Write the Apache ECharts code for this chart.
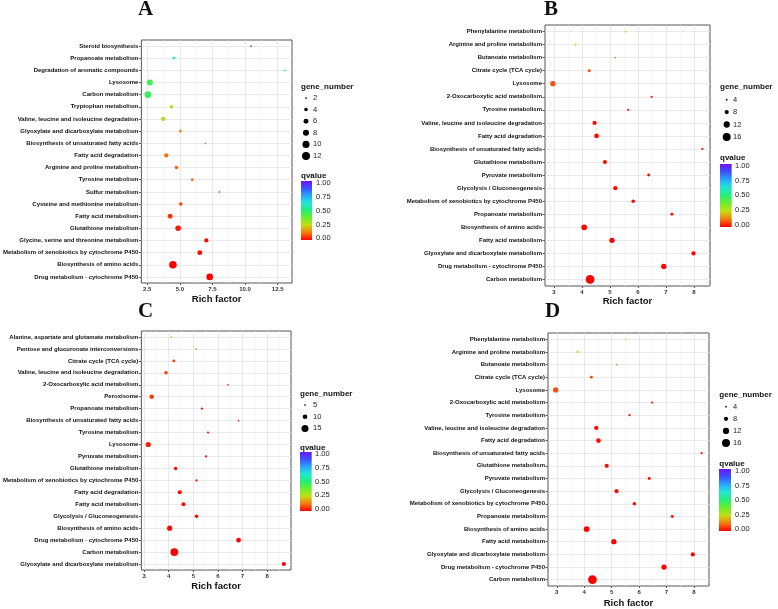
<!DOCTYPE html>
<html><head><meta charset="utf-8">
<script src="https://cdn.jsdelivr.net/npm/echarts@6/dist/echarts.min.js"></script>
<style>html,body{margin:0;padding:0;background:#fff}#c{width:778px;height:609px}</style>
</head><body><div id="c"></div><script>
// ---------- DATA ----------
const catA = ['Steroid biosynthesis','Propanoate metabolism','Degradation of aromatic compounds','Lysosome','Carbon metabolism','Tryptophan metabolism','Valine, leucine and isoleucine degradation','Glyoxylate and dicarboxylate metabolism','Biosynthesis of unsaturated fatty acids','Fatty acid degradation','Arginine and proline metabolism','Tyrosine metabolism','Sulfur metabolism','Cysteine and methionine metabolism','Fatty acid metabolism','Glutathione metabolism','Glycine, serine and threonine metabolism','Metabolism of xenobiotics by cytochrome P450','Biosynthesis of amino acids','Drug metabolism - cytochrome P450'];
const richA = [10.46, 4.54, 13.05, 2.70, 2.55, 4.36, 3.73, 5.04, 6.96, 3.96, 4.74, 5.95, 8.04, 5.07, 4.26, 4.87, 7.03, 6.53, 4.47, 7.29];
const geneA = [1, 3, 1, 8, 9, 4, 5, 3, 2, 5, 4, 3, 2, 4, 6, 7, 5, 6, 11, 9];
const qA = [0.95, 0.62, 0.5, 0.45, 0.46, 0.28, 0.30, 0.13, 0.12, 0.11, 0.10, 0.10, 0.08, 0.07, 0.05, 0.02, 0.01, 0.01, 0.0, 0.0];

const catB = ['Phenylalanine metabolism','Arginine and proline metabolism','Butanoate metabolism','Citrate cycle (TCA cycle)','Lysosome','2-Oxocarboxylic acid metabolism','Tyrosine metabolism','Valine, leucine and isoleucine degradation','Fatty acid degradation','Biosynthesis of unsaturated fatty acids','Glutathione metabolism','Pyruvate metabolism','Glycolysis / Gluconeogenesis','Metabolism of xenobiotics by cytochrome P450','Propanoate metabolism','Biosynthesis of amino acids','Fatty acid metabolism','Glyoxylate and dicarboxylate metabolism','Drug metabolism - cytochrome P450','Carbon metabolism'];
const richB = [5.55, 3.77, 5.19, 4.26, 2.96, 6.49, 5.65, 4.45, 4.52, 8.30, 4.82, 6.38, 5.19, 5.83, 7.21, 4.08, 5.07, 7.98, 6.92, 4.29];
const geneB = [4, 5, 4, 6, 10, 5, 5, 8, 9, 5, 8, 6, 8, 7, 6, 11, 10, 8, 10, 18];
const qB = [0.30, 0.28, 0.15, 0.08, 0.08, 0.03, 0.02, 0.01, 0.01, 0.02, 0.01, 0.01, 0.01, 0.01, 0.01, 0, 0, 0, 0, 0];

const catC = ['Alanine, aspartate and glutamate metabolism','Pentose and glucuronate interconversions','Citrate cycle (TCA cycle)','Valine, leucine and isoleucine degradation','2-Oxocarboxylic acid metabolism','Peroxisome','Propanoate metabolism','Biosynthesis of unsaturated fatty acids','Tyrosine metabolism','Lysosome','Pyruvate metabolism','Glutathione metabolism','Metabolism of xenobiotics by cytochrome P450','Fatty acid degradation','Fatty acid metabolism','Glycolysis / Gluconeogenesis','Biosynthesis of amino acids','Drug metabolism - cytochrome P450','Carbon metabolism','Glyoxylate and dicarboxylate metabolism'];
const richC = [4.11, 5.12, 4.21, 3.89, 6.41, 3.31, 5.35, 6.84, 5.60, 3.17, 5.52, 4.28, 5.13, 4.45, 4.60, 5.13, 4.04, 6.84, 4.23, 8.68];
const geneC = [5, 4, 7, 8, 5, 10, 6, 5, 6, 11, 6, 8, 6, 9, 9, 8, 11, 10, 17, 9];
const qC = [0.18, 0.15, 0.07, 0.06, 0.03, 0.06, 0.02, 0.04, 0.02, 0.03, 0.01, 0.01, 0.01, 0.01, 0.01, 0.01, 0, 0, 0, 0];

const catD = ['Phenylalanine metabolism','Arginine and proline metabolism','Butanoate metabolism','Citrate cycle (TCA cycle)','Lysosome','2-Oxocarboxylic acid metabolism','Tyrosine metabolism','Valine, leucine and isoleucine degradation','Fatty acid degradation','Biosynthesis of unsaturated fatty acids','Glutathione metabolism','Pyruvate metabolism','Glycolysis / Gluconeogenesis','Metabolism of xenobiotics by cytochrome P450','Propanoate metabolism','Biosynthesis of amino acids','Fatty acid metabolism','Glyoxylate and dicarboxylate metabolism','Drug metabolism - cytochrome P450','Carbon metabolism'];
const richD = [5.52, 3.76, 5.18, 4.26, 2.96, 6.48, 5.65, 4.44, 4.52, 8.28, 4.82, 6.37, 5.18, 5.83, 7.21, 4.09, 5.08, 7.96, 6.91, 4.30];
const geneD = [4, 5, 4, 6, 10, 5, 5, 8, 9, 5, 8, 6, 8, 7, 6, 11, 10, 8, 10, 18];
const qD = [0.30, 0.28, 0.15, 0.08, 0.08, 0.03, 0.02, 0.01, 0.01, 0.02, 0.01, 0.01, 0.01, 0.01, 0.01, 0, 0, 0, 0, 0];

const ticksA = [2.5, 5, 7.5, 10, 12.5];
const tickLabelsA = ['2.5', '5.0', '7.5', '10.0', '12.5'];
const minorA = [3.75, 6.25, 8.75, 11.25];
const ticksBCD = [3, 4, 5, 6, 7, 8];
const tickLabelsBCD = ['3', '4', '5', '6', '7', '8'];
const minorBCD = [3.5, 4.5, 5.5, 6.5, 7.5, 8.5];

const legendGenesA = [2, 4, 6, 8, 10, 12];
const legendGenesB = [4, 8, 12, 16];
const legendGenesC = [5, 10, 15];
const legendGenesD = [4, 8, 12, 16];
const qTicks = [0, 0.25, 0.5, 0.75, 1];
const qTickLabels = ['0.00', '0.25', '0.50', '0.75', '1.00'];
const panelLetters = ['A', 'B', 'C', 'D'];
const xTitle = 'Rich factor';

// ---------- STYLE / LAYOUT ----------
const rainbow = ['#FF0000', '#F47A10', '#C4DE14', '#6CEE2A', '#24EE78', '#22E8D2', '#2AA6FF', '#3A52FF', '#6E14FF'];
const panels = [
  {cats: catA, rich: richA, gene: geneA, q: qA, grid: {left: 138, top: 40, width: 154, height: 243}, xmin: 2.05, xmax: 13.6,
   ticks: ticksA, tickLabels: tickLabelsA, minor: minorA, size: [-2.6, 3.07], nameGap: 11,
   leg: {x: 301, titleY: 87, dotX: 306, labelX: 313, itemY0: 98, step: 11.6, genes: legendGenesA, qTitleY: 176, barX: 301, barW: 11, barTop: 181, barBot: 240, labTop: 183, labBot: 238.3, qLabelX: 316},
   letter: {x: 138, y: -1}},
  {cats: catB, rich: richB, gene: geneB, q: qB, grid: {left: 545, top: 25, width: 165, height: 261}, xmin: 2.68, xmax: 8.57,
   ticks: ticksBCD, tickLabels: tickLabelsBCD, minor: minorBCD, size: [-5, 3.25], nameGap: 9,
   leg: {x: 720, titleY: 87, dotX: 726.7, labelX: 733, itemY0: 99.7, step: 12.4, genes: legendGenesB, qTitleY: 157.3, barX: 720, barW: 11.7, barTop: 164, barBot: 227, labTop: 165.7, labBot: 225, qLabelX: 735},
   letter: {x: 544, y: -1}},
  {cats: catC, rich: richC, gene: geneC, q: qC, grid: {left: 139, top: 331, width: 152, height: 239}, xmin: 2.89, xmax: 8.97,
   ticks: ticksBCD, tickLabels: tickLabelsBCD, minor: minorBCD, size: [-6, 3.36], nameGap: 11,
   leg: {x: 300, titleY: 394, dotX: 305, labelX: 313, itemY0: 405, step: 11.7, genes: legendGenesC, qTitleY: 447.3, barX: 300, barW: 11.7, barTop: 452, barBot: 511, labTop: 454.3, labBot: 509, qLabelX: 315},
   letter: {x: 138, y: 301}},
  {cats: catD, rich: richD, gene: geneD, q: qD, grid: {left: 548, top: 333, width: 161, height: 254}, xmin: 2.68, xmax: 8.55,
   ticks: ticksBCD, tickLabels: tickLabelsBCD, minor: minorBCD, size: [-5, 3.25], nameGap: 12,
   leg: {x: 719.3, titleY: 394.3, dotX: 726, labelX: 733, itemY0: 406.7, step: 12.1, genes: legendGenesD, qTitleY: 464, barX: 719, barW: 12, barTop: 469, barBot: 531, labTop: 471, labBot: 529, qLabelX: 735},
   letter: {x: 545, y: 301}}
];
const FONT = '"Liberation Sans", Arial, sans-serif';
function diam(p, n) { return Math.max(1.7, p.size[0] + p.size[1] * Math.sqrt(n)); }

const chart = echarts.init(document.getElementById('c'), null, {renderer: 'canvas'});
const grids = [], xAxes = [], yAxes = [], series = [], visualMaps = [], graphics = [];
panels.forEach((p, i) => {
  grids.push(Object.assign({show: true, borderColor: '#555', borderWidth: 1, backgroundColor: '#fff', containLabel: false}, p.grid));
  xAxes.push({
    gridIndex: i, type: 'value', min: p.xmin, max: p.xmax, position: 'bottom',
    axisLine: {show: false},
    axisTick: {show: true, length: 2, lineStyle: {color: '#333', width: 0.8}, customValues: p.ticks},
    axisLabel: {customValues: p.ticks, fontSize: 6, fontWeight: 'bold', color: '#333', fontFamily: FONT, margin: 3,
      formatter: (v) => { const k = p.ticks.indexOf(v); return k >= 0 ? p.tickLabels[k] : ''; }},
    splitLine: {show: true, lineStyle: {color: '#E4E4E4', width: 0.8}},
    name: xTitle, nameLocation: 'middle', nameGap: p.nameGap,
    nameTextStyle: {fontSize: 9.5, fontWeight: 'bold', color: '#111', fontFamily: FONT}
  });
  xAxes.push({
    gridIndex: i, type: 'value', min: p.xmin, max: p.xmax, position: 'bottom',
    axisLine: {show: false}, axisLabel: {show: false},
    axisTick: {show: false, customValues: p.minor},
    splitLine: {show: true, lineStyle: {color: '#F1F1F1', width: 0.6}}
  });
  yAxes.push({
    gridIndex: i, type: 'category', data: p.cats, inverse: true,
    axisLine: {show: false},
    axisTick: {show: true, length: 2.5, alignWithLabel: true, lineStyle: {color: '#333', width: 0.8}},
    axisLabel: {fontSize: 6, fontWeight: 'bold', color: '#111', fontFamily: FONT, margin: 3, interval: 0},
    splitLine: {show: true, alignWithLabel: true, interval: 0, lineStyle: {color: '#E4E4E4', width: 0.8}}
  });
  series.push({
    type: 'scatter', xAxisIndex: 2 * i, yAxisIndex: i,
    data: p.cats.map((c, j) => [p.rich[j], c, p.gene[j], p.q[j]]),
    symbol: 'circle', symbolSize: (v) => diam(p, v[2]),
    itemStyle: {opacity: 1}, emphasis: {disabled: true}, z: 5
  });
  visualMaps.push({type: 'continuous', show: false, seriesIndex: i, dimension: 3, min: 0, max: 1, inRange: {color: rainbow}});

  // Panel letter
  graphics.push({type: 'text', x: p.letter.x, y: p.letter.y,
    style: {text: panelLetters[i], font: 'bold 21px "Liberation Serif", "Times New Roman", serif', fill: '#111', align: 'left', verticalAlign: 'top'}});
  // gene_number legend
  const L = p.leg;
  graphics.push({type: 'text', x: L.x, y: L.titleY,
    style: {text: 'gene_number', font: 'bold 8px ' + FONT, fill: '#111', align: 'left', verticalAlign: 'middle'}});
  L.genes.forEach((g, k) => {
    const cy = L.itemY0 + k * L.step;
    graphics.push({type: 'circle', shape: {cx: L.dotX, cy: cy, r: diam(p, g) / 2}, style: {fill: '#000'}});
    graphics.push({type: 'text', x: L.labelX, y: cy,
      style: {text: String(g), font: '7.5px ' + FONT, fill: '#222', align: 'left', verticalAlign: 'middle'}});
  });
  // qvalue colour bar
  graphics.push({type: 'text', x: L.x, y: L.qTitleY,
    style: {text: 'qvalue', font: 'bold 8px ' + FONT, fill: '#111', align: 'left', verticalAlign: 'middle'}});
  const stops = rainbow.map((c, k) => ({offset: k / (rainbow.length - 1), color: c}));
  graphics.push({type: 'rect', shape: {x: L.barX, y: L.barTop, width: L.barW, height: L.barBot - L.barTop},
    style: {fill: new echarts.graphic.LinearGradient(0, 1, 0, 0, stops)}});
  qTicks.forEach((t, k) => {
    const y = L.labBot - t * (L.labBot - L.labTop);
    graphics.push({type: 'text', x: L.qLabelX, y: y,
      style: {text: qTickLabels[k], font: '7.5px ' + FONT, fill: '#222', align: 'left', verticalAlign: 'middle'}});
  });
});

chart.setOption({
  animation: false,
  backgroundColor: '#fff',
  grid: grids, xAxis: xAxes, yAxis: yAxes, series: series, visualMap: visualMaps,
  graphic: {elements: graphics}
});
</script></body></html>
